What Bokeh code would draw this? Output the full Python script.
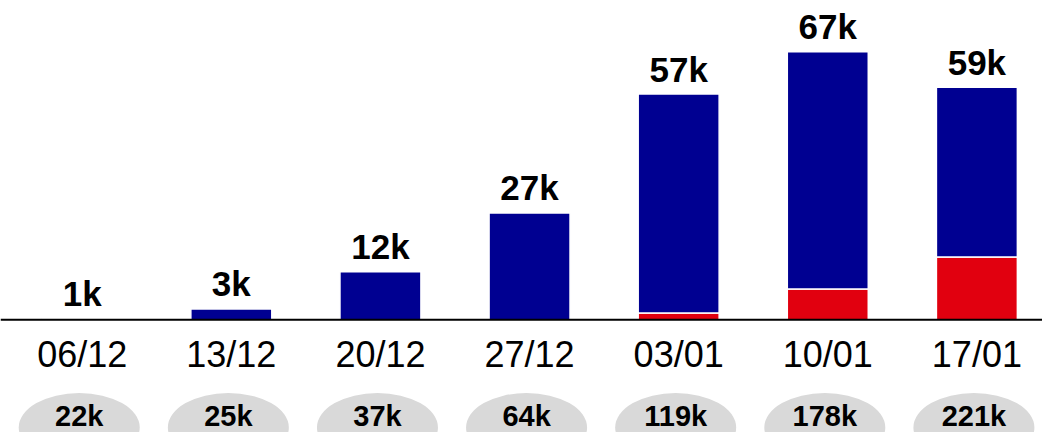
from bokeh.plotting import figure
from bokeh.models import ColumnDataSource, Range1d, Span
from bokeh.core.properties import value
from bokeh.embed import file_html
from bokeh.resources import INLINE

# Data (thousands)
weeks = ["06/12", "13/12", "20/12", "27/12", "03/01", "10/01", "17/01"]
red_values = [0.0, 0.0, 0.0, 0.0, 1.7, 7.7, 15.7]
blue_values = [0.3, 2.7, 12.0, 26.7, 54.7, 59.3, 42.4]
bar_labels = ["1k", "3k", "12k", "27k", "57k", "67k", "59k"]
cumul_labels = ["22k", "25k", "37k", "64k", "119k", "178k", "221k"]

BLUE = "#000091"
RED = "#E1000F"
FONT = "Liberation Sans"

xs = list(range(len(weeks)))
totals = [r + b for r, b in zip(red_values, blue_values)]

src = ColumnDataSource(dict(
    x=xs, week=weeks, red=red_values, blue=blue_values, total=totals,
    lab=bar_labels, cum=cumul_labels,
    zero=[0.0] * len(xs), ell_y=[-26.95] * len(xs), ell_x=[x - 0.02 for x in xs],
))

p = figure(width=1042, height=432, output_backend="svg", toolbar_location=None,
           x_range=Range1d(-0.548, 6.44), y_range=Range1d(-28.2, 79.8),
           min_border=0, outline_line_color=None)
p.axis.visible = False
p.grid.visible = False

p.vbar_stack(["red", "blue"], x="x", width=0.543, source=src,
             color=[RED, BLUE], line_color="white", line_width=1.5)

p.add_layout(Span(location=0, dimension="width", line_color="black", line_width=2))

p.text(x="x", y="total", text="lab", source=src, text_align="center",
       text_baseline="alphabetic", y_offset=-25, text_font=value(FONT),
       text_font_size="35px", text_font_style="bold", text_color="black")

p.text(x="x", y="zero", text="week", source=src, text_align="center",
       text_baseline="alphabetic", y_offset=35, text_font=value(FONT),
       text_font_size="36px", text_color="black")

p.ellipse(x="ell_x", y="ell_y", width=121, height=69, width_units="screen",
          height_units="screen", source=src, fill_color="#D9D9D9", line_color=None)

p.text(x="ell_x", y="zero", text="cum", source=src, text_align="center",
       text_baseline="alphabetic", y_offset=96, text_font=value(FONT),
       text_font_size="29px", text_font_style="bold", text_color="black")

open("out.html", "w").write(file_html(p, INLINE))
